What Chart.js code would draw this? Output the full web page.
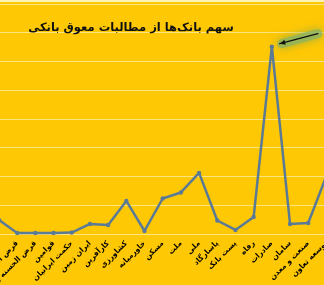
<!DOCTYPE html>
<html>
<head>
<meta charset="utf-8">
<script src="https://cdn.jsdelivr.net/npm/chart.js@4.4.1/dist/chart.umd.min.js"></script>
<style>
  html, body { margin: 0; padding: 0; overflow: hidden; }
  body { width: 324px; height: 285px; position: relative; background: #FFC805; }
  #topline { position: absolute; left: 0; top: 0; width: 324px; height: 2px; background: #FFF3B8; }
  #wrap { position: absolute; left: -200px; top: 0; width: 560px; height: 285px; }
  #titre {
    position: absolute; left: 0px; top: 20px; width: 262px;
    text-align: center; direction: rtl; white-space: nowrap;
    font-family: 'DejaVu Sans', sans-serif; font-weight: bold; font-size: 11.5px; color: #111;
  }
</style>
</head>
<body>
<div id="wrap"><canvas id="myChart" width="560" height="285"></canvas></div>
<div id="topline"></div>
<div id="titre">سهم بانک‌ها از مطالبات معوق بانکی</div>
<script>
// bancos (el primero queda fuera de la imagen)
const BANCOS = ['آینده', 'قرض الحسنه مهر ایران', 'قرض الحسنه رسالت', 'قوامین', 'حکمت ایرانیان',
  'ایران زمین', 'کارآفرین', 'کشاورزی', 'خاورمیانه', 'مسکن', 'ملت', 'ملی', 'پاسارگاد',
  'پست بانک', 'رفاه', 'صادرات', 'سامان', 'صنعت و معدن', 'توسعه تعاون'];
const SAHM = [0.98, 0.07, 0.07, 0.07, 0.1, 0.7, 0.63, 2.3, 0.21, 2.47, 2.89, 4.25, 0.94,
  0.28, 1.18, 13.03, 0.7, 0.77, 4.04];

const COLOR_LINEA = '#5B7A96';

// flecha que señala el valor máximo
const flecha = {
  id: 'flecha',
  afterDatasetsDraw(chart) {
    const i = SAHM.indexOf(Math.max(...SAHM));
    const p = chart.getDatasetMeta(0).data[i];
    const x1 = p.x + 46, y1 = p.y - 13;
    const x2 = p.x + 8, y2 = p.y - 3;
    const c = chart.ctx;
    c.save();
    // resplandor verde
    c.lineCap = 'round';
    c.strokeStyle = 'rgba(140,180,100,0.75)';
    c.shadowColor = 'rgba(110,160,90,0.9)';
    c.shadowBlur = 8;
    c.lineWidth = 9;
    c.beginPath(); c.moveTo(x1, y1); c.lineTo(x2 + 2, y2); c.stroke();
    c.shadowBlur = 0;
    c.strokeStyle = '#111';
    c.fillStyle = '#111';
    c.lineWidth = 1.4;
    c.beginPath(); c.moveTo(x1, y1); c.lineTo(x2, y2); c.stroke();
    const ang = Math.atan2(y2 - y1, x2 - x1);
    c.beginPath();
    c.moveTo(x2, y2);
    c.lineTo(x2 - 6 * Math.cos(ang - 0.45), y2 - 6 * Math.sin(ang - 0.45));
    c.lineTo(x2 - 6 * Math.cos(ang + 0.45), y2 - 6 * Math.sin(ang + 0.45));
    c.closePath(); c.fill();
    c.restore();
  }
};

var ctx = document.getElementById('myChart').getContext('2d');
var myChart = new Chart(ctx, {
  type: 'line',
  data: {
    labels: BANCOS,
    datasets: [{
      data: SAHM,
      borderColor: COLOR_LINEA,
      backgroundColor: COLOR_LINEA,
      borderWidth: 2.5,
      borderJoinStyle: 'round',
      pointRadius: 2.2,
      pointBorderWidth: 0,
      tension: 0,
      fill: false,
      clip: false
    }]
  },
  options: {
    responsive: false,
    devicePixelRatio: 1,
    animation: false,
    layout: { padding: { left: 189.9, right: 24.5, top: 4, bottom: 0 } },
    plugins: { legend: { display: false }, title: { display: false }, tooltip: { enabled: false } },
    scales: {
      x: {
        offset: true,
        grid: { display: false, drawTicks: false },
        border: { display: false },
        ticks: {
          autoSkip: false,
          minRotation: 45,
          maxRotation: 45,
          padding: 5,
          color: '#000',
          font: { family: 'DejaVu Sans', size: 7.5, weight: 'bold' }
        },
        afterFit: (s) => { s.height = 51; }
      },
      y: {
        position: 'right',
        min: 0,
        max: 16,
        grid: { color: 'rgba(255,255,255,0.5)', lineWidth: 1, drawTicks: false },
        border: { display: false },
        ticks: { display: false, stepSize: 2 },
        afterFit: (s) => { s.width = 0; }
      }
    }
  },
  plugins: [flecha]
});
</script>
</body>
</html>
